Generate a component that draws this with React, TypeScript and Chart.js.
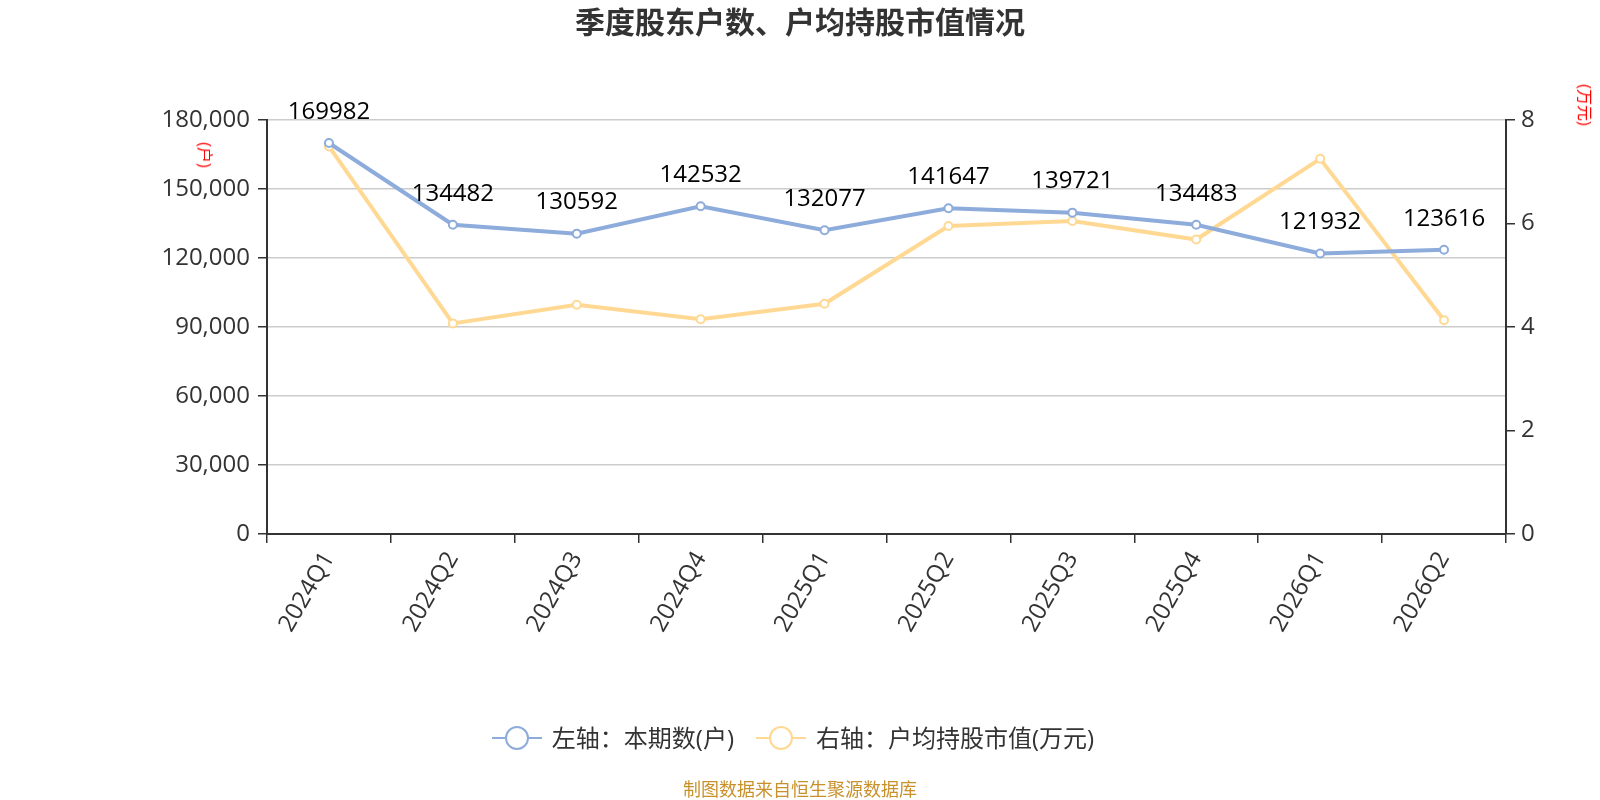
import React, { useEffect, useRef } from 'react';
import { Chart, registerables } from 'chart.js';

Chart.register(...registerables);

const quarters = ['2024Q1', '2024Q2', '2024Q3', '2024Q4', '2025Q1', '2025Q2', '2025Q3', '2025Q4', '2026Q1', '2026Q2'];
const households = [169982, 134482, 130592, 142532, 132077, 141647, 139721, 134483, 121932, 123616];
const avgValue = [7.49, 4.07, 4.43, 4.15, 4.45, 5.95, 6.05, 5.69, 7.25, 4.13];

const BLUE = '#8EACDB';
const YELLOW = '#FFD993';
const FONT = '"Open Sans", "Noto Sans CJK SC", sans-serif';

const labelPlugin = {
  id: 'pointLabels',
  afterDatasetsDraw(chart: any) {
    const ctx = chart.ctx;
    const meta = chart.getDatasetMeta(0);
    ctx.save();
    ctx.font = `24px ${FONT}`;
    ctx.fillStyle = '#000';
    ctx.textAlign = 'center';
    ctx.textBaseline = 'middle';
    meta.data.forEach((pt: any, i: number) => {
      ctx.fillText(String(households[i]), pt.x, pt.y - 31);
    });
    ctx.restore();
  },
};

const App: React.FC = () => {
  const canvasRef = useRef<HTMLCanvasElement | null>(null);
  const chartRef = useRef<Chart | null>(null);

  useEffect(() => {
    if (!canvasRef.current) return;
    if (chartRef.current) chartRef.current.destroy();

    chartRef.current = new Chart(canvasRef.current, {
      type: 'line',
      data: {
        labels: quarters,
        datasets: [
          {
            label: '左轴：本期数(户)',
            data: households,
            yAxisID: 'y',
            borderColor: BLUE,
            backgroundColor: '#fff',
            borderWidth: 4,
            pointRadius: 4,
            pointBorderWidth: 2,
            pointBorderColor: BLUE,
            pointBackgroundColor: '#fff',
            tension: 0,
          },
          {
            label: '右轴：户均持股市值(万元)',
            data: avgValue,
            yAxisID: 'y1',
            borderColor: YELLOW,
            backgroundColor: '#fff',
            borderWidth: 4,
            pointRadius: 4,
            pointBorderWidth: 2,
            pointBorderColor: YELLOW,
            pointBackgroundColor: '#fff',
            tension: 0,
          },
        ],
      },
      options: {
        responsive: false,
        animation: false,
        layout: { padding: { top: 120, left: 0, right: 0, bottom: 0 } },
        plugins: {
          legend: { display: false },
          title: { display: false },
          tooltip: { enabled: false },
        },
        scales: {
          x: {
            offset: true,
            afterFit: (s: any) => { s.height = 266; },
            grid: {
              display: true,
              drawOnChartArea: false,
              offset: true,
              tickLength: 9,
              tickColor: '#333',
              lineWidth: 1.5,
            },
            border: { color: '#333', width: 2 },
            ticks: {
              color: '#333',
              font: { family: FONT, size: 24 },
              maxRotation: 60,
              minRotation: 60,
              padding: 4,
            },
          },
          y: {
            position: 'left',
            min: 0,
            max: 180000,
            afterFit: (s: any) => { s.width = 267; },
            grid: { color: '#ccc', lineWidth: 1.5, tickColor: '#333', tickLength: 9 },
            border: { color: '#333', width: 2 },
            ticks: {
              stepSize: 30000,
              color: '#333',
              font: { family: FONT, size: 24 },
              padding: 8,
              callback: (v: any) => Number(v).toLocaleString('en-US'),
            },
          },
          y1: {
            position: 'right',
            min: 0,
            max: 8,
            afterFit: (s: any) => { s.width = 94; },
            grid: { drawOnChartArea: false, tickColor: '#333', tickLength: 9, lineWidth: 1.5 },
            border: { color: '#333', width: 2 },
            ticks: {
              stepSize: 2,
              color: '#333',
              font: { family: FONT, size: 24 },
              padding: 6,
            },
          },
        },
      },
      plugins: [labelPlugin],
    });

    return () => {
      if (chartRef.current) {
        chartRef.current.destroy();
        chartRef.current = null;
      }
    };
  }, []);

  const marker = (color: string) => (
    <span style={{ position: 'relative', display: 'inline-block', width: 50, height: 24, verticalAlign: 'middle' }}>
      <span style={{ position: 'absolute', left: 0, right: 0, top: 11, height: 2, background: color }} />
      <span
        style={{
          position: 'absolute', left: 13, top: 0, width: 20, height: 20,
          borderRadius: '50%', border: `2px solid ${color}`, background: '#fff',
        }}
      />
    </span>
  );

  const unitStyle: React.CSSProperties = {
    position: 'absolute', color: 'red', fontSize: 16, whiteSpace: 'nowrap',
    transform: 'translate(-50%, -50%) rotate(90deg)', lineHeight: 1,
  };

  return (
    <div style={{ position: 'fixed', left: 0, top: 0, width: 1600, height: 800, background: '#fff', fontFamily: FONT }}>
      <canvas ref={canvasRef} width={1600} height={800} style={{ position: 'absolute', left: 0, top: 0 }} />
      <div style={{ position: 'absolute', left: 0, width: 1600, top: 2, textAlign: 'center', fontSize: 30, lineHeight: '40px', fontWeight: 'bold', color: '#333' }}>
        季度股东户数、户均持股市值情况
      </div>
      <div style={{ ...unitStyle, left: 205, top: 155 }}>(户)</div>
      <div style={{ ...unitStyle, left: 1585, top: 105 }}>(万元)</div>
      <div style={{ position: 'absolute', left: 0, width: 1586, top: 717, lineHeight: '36px', textAlign: 'center', fontSize: 24, color: '#333', whiteSpace: 'nowrap' }}>
        {marker(BLUE)}
        <span style={{ marginLeft: 10, marginRight: 22, verticalAlign: 'middle' }}>左轴：本期数(户)</span>
        {marker(YELLOW)}
        <span style={{ marginLeft: 10, verticalAlign: 'middle' }}>右轴：户均持股市值(万元)</span>
      </div>
      <div style={{ position: 'absolute', left: 0, width: 1600, top: 776, lineHeight: '26px', textAlign: 'center', fontSize: 18, color: '#C9912B' }}>
        制图数据来自恒生聚源数据库
      </div>
    </div>
  );
};

export default App;
